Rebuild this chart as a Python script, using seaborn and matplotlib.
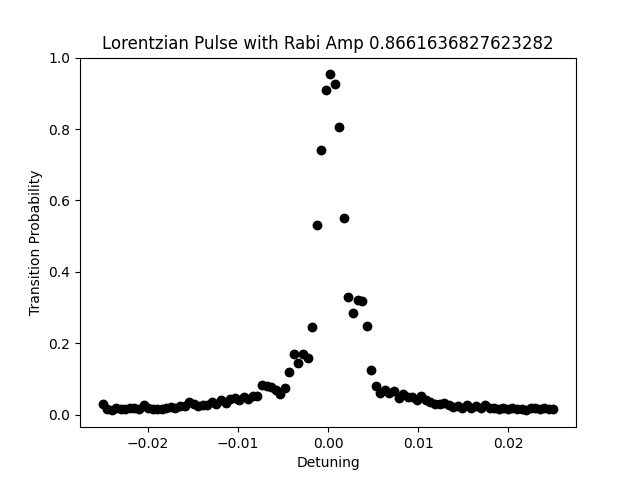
import numpy as np
import matplotlib
matplotlib.use("Agg")
import matplotlib.pyplot as plt
import seaborn as sns

RABI_AMP = 0.8661636827623282
# Detuning grid (100 samples across the scan)
detuning = np.linspace(-0.025, 0.025, 100)

# Transition probabilities
left = [0.030, 0.015, 0.014, 0.020, 0.016, 0.015, 0.020, 0.018, 0.017, 0.028,
        0.018, 0.017, 0.016, 0.015, 0.020, 0.022, 0.019, 0.024, 0.025, 0.035,
        0.030, 0.025, 0.028, 0.027, 0.035, 0.030, 0.040, 0.032, 0.045, 0.048,
        0.040, 0.050, 0.045, 0.052, 0.053, 0.082, 0.080, 0.078, 0.068, 0.058,
        0.075, 0.120, 0.170, 0.145, 0.170, 0.160, 0.245, 0.530, 0.740, 0.910]
right = [0.955, 0.925, 0.805, 0.550, 0.330, 0.285, 0.320, 0.318, 0.248, 0.125,
         0.080, 0.060, 0.068, 0.060, 0.065, 0.048, 0.058, 0.050, 0.050, 0.042,
         0.052, 0.040, 0.035, 0.030, 0.030, 0.032, 0.028, 0.022, 0.025, 0.020,
         0.028, 0.018, 0.025, 0.020, 0.028, 0.018, 0.020, 0.016, 0.018, 0.017,
         0.018, 0.016, 0.015, 0.014, 0.020, 0.018, 0.015, 0.020, 0.017, 0.015]
probability = left[:49] + [left[49]] + right[:50]
probability = probability[:100]

fig, ax = plt.subplots(figsize=(6.4, 4.8), dpi=100)
sns.scatterplot(x=detuning, y=probability, ax=ax, color="black", s=50,
                edgecolor="black", linewidth=0)
ax.set_ylim(-0.035, 1.0)
ax.set_title(f"Lorentzian Pulse with Rabi Amp {RABI_AMP}")
ax.set_xlabel("Detuning")
ax.set_ylabel("Transition Probability")
fig.savefig("out.png")
